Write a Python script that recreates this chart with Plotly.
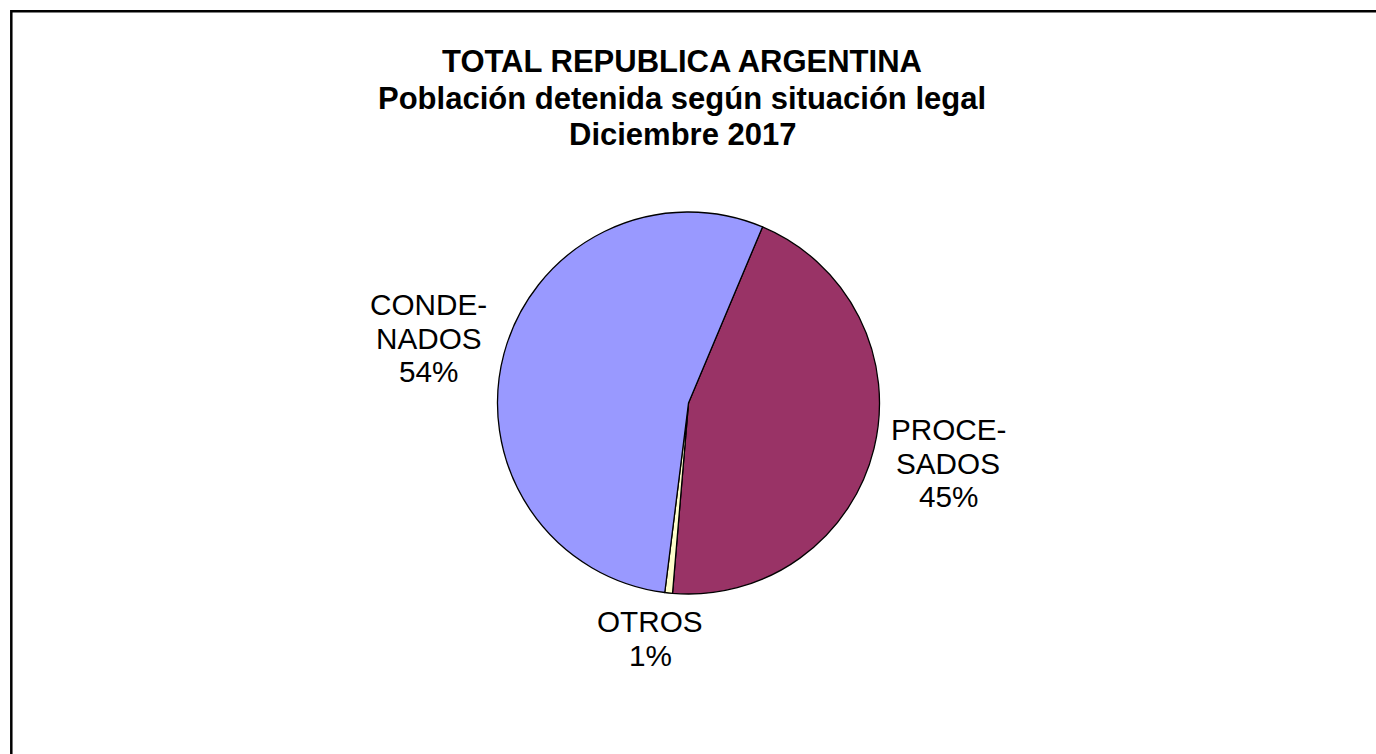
import plotly.graph_objects as go

# ---- data ----
categories = ["PROCESADOS", "OTROS", "CONDENADOS"]
display_labels = [["PROCE-", "SADOS"], ["OTROS"], ["CONDE-", "NADOS"]]
values = [45.0, 0.65, 54.35]
colors = ["#993366", "#FFFFCC", "#9999FF"]
title_lines = ["TOTAL REPUBLICA ARGENTINA",
               "Población detenida según situación legal",
               "Diciembre 2017"]

W, H = 1376, 754
FONT = "Liberation Sans, Arial, sans-serif"

total = sum(values)
pcts = [round(v / total * 100) for v in values]

fig = go.Figure()
fig.add_trace(go.Pie(
    labels=categories,
    values=values,
    sort=False,
    direction="clockwise",
    rotation=22.8,
    marker=dict(colors=colors, line=dict(color="black", width=1.3)),
    textinfo="none",
    hoverinfo="label+percent",
    domain=dict(x=[497.5 / W, 879.5 / W], y=[1 - 594 / H, 1 - 212 / H]),
))

# label placement: pixel center x and first-line center y of each text block
label_pos = {"PROCESADOS": (948, 429.5), "OTROS": (650, 621.5), "CONDENADOS": (428.5, 304.5)}
LINE_STEP = 33.6
for cat, lab, p in zip(categories, display_labels, pcts):
    px, py = label_pos[cat]
    for i, line in enumerate(lab + [f"{p}%"]):
        fig.add_annotation(
            x=px / W, y=1 - (py + i * LINE_STEP) / H, xref="paper", yref="paper",
            text=line, showarrow=False,
            xanchor="center", yanchor="middle", align="center",
            font=dict(family=FONT, size=29.7, color="black"),
        )

# chart title, one annotation per line (tight line spacing as in the original)
TITLE_X, TITLE_Y0, TITLE_STEP = 682, 61.7, 36.4
for i, t in enumerate(title_lines):
    fig.add_annotation(
        x=TITLE_X / W, y=1 - (TITLE_Y0 + i * TITLE_STEP) / H, xref="paper", yref="paper",
        text=f"<b>{t}</b>", showarrow=False,
        xanchor="center", yanchor="middle", align="center",
        font=dict(family=FONT, size=31, color="black"),
    )

fig.update_layout(
    width=W, height=H, autosize=False,
    margin=dict(l=0, r=0, t=0, b=0),
    paper_bgcolor="white", plot_bgcolor="white",
    showlegend=False,
    shapes=[dict(type="rect", xref="paper", yref="paper",
                 x0=11.3 / W, x1=1.05, y0=-0.05, y1=1 - 11.3 / H,
                 line=dict(color="black", width=2.5), fillcolor="rgba(0,0,0,0)")],
)

fig.write_html(
    "out.html",
    config={"displayModeBar": False},
    post_script="document.body.style.margin='0';document.body.style.overflow='hidden';",
)
